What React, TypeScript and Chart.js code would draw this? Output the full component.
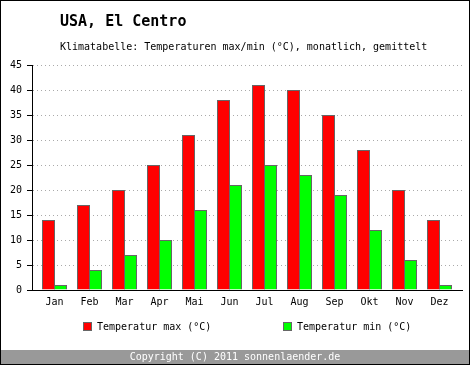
import { useEffect, useRef } from 'react';
import { Chart, registerables } from 'chart.js';

Chart.register(...registerables);

const months = ['Jan', 'Feb', 'Mar', 'Apr', 'Mai', 'Jun', 'Jul', 'Aug', 'Sep', 'Okt', 'Nov', 'Dez'];
const tempMax = [14, 17, 20, 25, 31, 38, 41, 40, 35, 28, 20, 14];
const tempMin = [1, 4, 7, 10, 16, 21, 25, 23, 19, 12, 6, 1];
const seriesLabels = ['Temperatur max (°C)', 'Temperatur min (°C)'];
const yMin = 0;
const yMax = 45;
const yStep = 5;
const titleText = 'USA, El Centro';
const subtitleText = 'Klimatabelle: Temperaturen max/min (°C), monatlich, gemittelt';
const footerText = 'Copyright (C) 2011 sonnenlaender.de';

const FONT = '"DejaVu Sans Mono", monospace';

const decor = {
  id: 'decor',
  beforeDraw(chart: any) {
    const ctx = chart.ctx;
    ctx.save();
    ctx.fillStyle = '#ffffff';
    ctx.fillRect(0, 0, chart.width, chart.height);
    ctx.restore();
  },
  afterDraw(chart: any) {
    const ctx = chart.ctx;
    ctx.save();
    // footer band
    ctx.fillStyle = '#999999';
    ctx.fillRect(0, 350, 470, 15);
    ctx.fillStyle = '#ffffff';
    ctx.font = `10px ${FONT}`;
    ctx.textAlign = 'center';
    ctx.textBaseline = 'middle';
    ctx.fillText(footerText, 235, 357);
    // outer border
    ctx.strokeStyle = '#000000';
    ctx.lineWidth = 1;
    ctx.strokeRect(0.5, 0.5, 469, 364);
    // titles
    ctx.fillStyle = '#000000';
    ctx.textAlign = 'left';
    ctx.font = `bold 15px ${FONT}`;
    ctx.fillText(titleText, 60, 22);
    ctx.font = `10px ${FONT}`;
    ctx.fillText(subtitleText, 60, 47);
    // legend
    const xs = [83, 283];
    chart.data.datasets.forEach((ds: any, i: number) => {
      const x = xs[i];
      ctx.fillStyle = ds.backgroundColor;
      ctx.fillRect(x, 322, 8, 9);
      ctx.strokeStyle = ds.borderColor;
      ctx.strokeRect(x + 0.5, 322.5, 8, 8);
      ctx.fillStyle = '#000000';
      ctx.font = `10px ${FONT}`;
      ctx.fillText(ds.label, x + 14, 327);
    });
    ctx.restore();
  },
};

const barStyle = {
  borderColor: '#666666',
  borderWidth: 1,
  inflateAmount: 0,
  categoryPercentage: 24 / 35,
  barPercentage: 13 / 12,
};

export default function App() {
  const ref = useRef<HTMLCanvasElement | null>(null);
  useEffect(() => {
    if (!ref.current) return;
    Chart.defaults.font.family = FONT;
    Chart.defaults.font.size = 10;
    Chart.defaults.color = '#000000';
    const chart = new Chart(ref.current, {
      type: 'bar',
      data: {
        datasets: [
          {
            label: seriesLabels[0],
            data: tempMax.map((v, i) => ({ x: i, y: v })),
            backgroundColor: '#ff0000',
            ...barStyle,
          },
          {
            label: seriesLabels[1],
            data: tempMin.map((v, i) => ({ x: i, y: v })),
            backgroundColor: '#00ff00',
            ...barStyle,
          },
        ],
      } as any,
      options: {
        animation: false,
        responsive: false,
        devicePixelRatio: 1,
        layout: { padding: { top: 65, left: 10, right: 8, bottom: 57 } },
        plugins: { legend: { display: false }, tooltip: { enabled: false }, title: { display: false } },
        scales: {
          x: {
            type: 'linear',
            offset: false,
            min: -22.5 / 35,
            max: 11 + 22.5 / 35,
            afterBuildTicks: (scale: any) => {
              scale.ticks = months.map((_, i) => ({ value: i }));
            },
            afterFit: (scale: any) => {
              scale.height = 18;
            },
            ticks: {
              autoSkip: false,
              maxRotation: 0,
              padding: 6,
              callback: (value: any) => months[value as number] ?? '',
            },
            grid: { display: false, drawTicks: false, offset: false },
            border: { display: true, color: '#000000', width: 1 },
          },
          y: {
            min: yMin,
            max: yMax,
            afterFit: (scale: any) => {
              scale.width = 22;
            },
            ticks: { stepSize: yStep, padding: 5 },
            grid: {
              color: '#aaaaaa',
              tickColor: '#000000',
              tickLength: 5,
              tickBorderDash: [],
            },
            border: { display: true, color: '#000000', width: 1, dash: [1, 3] },
          },
        },
      } as any,
      plugins: [decor],
    });
    return () => chart.destroy();
  }, []);
  return (
    <div style={{ position: 'fixed', left: 0, top: 0, width: 470, height: 365 }}>
      <canvas ref={ref} width={470} height={365} />
    </div>
  );
}
